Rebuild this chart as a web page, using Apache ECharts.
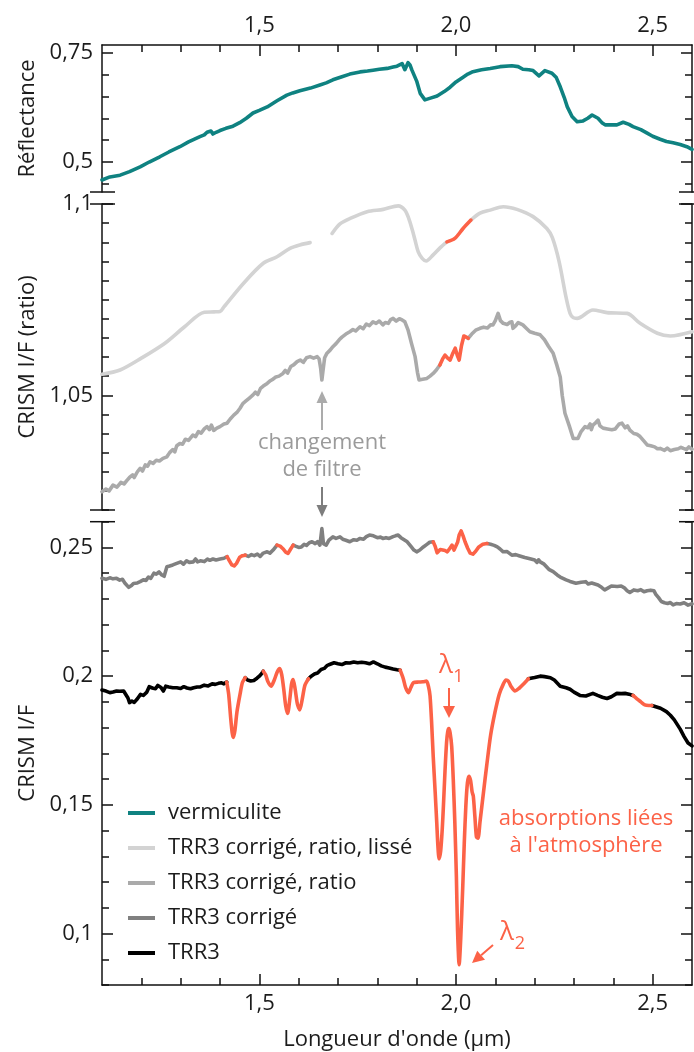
<!DOCTYPE html>
<html><head><meta charset="utf-8">
<script src="https://cdn.jsdelivr.net/npm/echarts@6/dist/echarts.min.js"></script>
<style>html,body{margin:0;padding:0;background:#fff}#c{width:694px;height:1052px}</style>
</head><body><div id="c"></div>
<script>
// ---------------- DATA ----------------
const xTickMajor = [1.5, 2.0, 2.5];
const xTickMinor = [1.2,1.3,1.4,1.6,1.7,1.8,1.9,2.1,2.2,2.3,2.4];
const yTopLabels = [0.5, 0.75];
const yTopMinor = [0.45,0.55,0.6,0.65,0.7];
const yMidLabels = [1.05, 1.1];
const yMidMinor = [1.02,1.025,1.03,1.035,1.04,1.045,1.055,1.06,1.065,1.07,1.075,1.08,1.085,1.09,1.095];
const yBotLabels = [0.1, 0.15, 0.2, 0.25];
const yBotMinor = [0.08,0.09,0.11,0.12,0.13,0.14,0.16,0.17,0.18,0.19,0.21,0.22,0.23,0.24,0.26];

const legendNames = ['vermiculite','TRR3 corrigé, ratio, lissé','TRR3 corrigé, ratio','TRR3 corrigé','TRR3'];

const vermiculite = [[1.10,0.459],[1.12,0.466],[1.146,0.47],[1.17,0.478],[1.197,0.489],[1.22,0.50],[1.247,0.512],[1.27,0.523],[1.298,0.535],[1.32,0.546],[1.349,0.558],[1.36,0.562],[1.367,0.568],[1.372,0.566],[1.377,0.571],[1.382,0.564],[1.39,0.568],[1.40,0.572],[1.415,0.577],[1.433,0.582],[1.45,0.59],[1.467,0.60],[1.484,0.612],[1.50,0.618],[1.52,0.626],[1.545,0.64],[1.57,0.653],[1.585,0.658],[1.603,0.663],[1.63,0.669],[1.654,0.676],[1.67,0.681],[1.687,0.688],[1.71,0.695],[1.73,0.701],[1.756,0.706],[1.775,0.708],[1.789,0.71],[1.805,0.712],[1.825,0.714],[1.84,0.717],[1.85,0.719],[1.863,0.725],[1.870,0.711],[1.878,0.727],[1.883,0.722],[1.888,0.71],[1.90,0.685],[1.909,0.657],[1.921,0.642],[1.935,0.646],[1.952,0.651],[1.97,0.661],[1.985,0.671],[2.0,0.683],[2.018,0.694],[2.03,0.701],[2.043,0.7065],[2.065,0.711],[2.087,0.714],[2.112,0.718],[2.142,0.72],[2.158,0.718],[2.170,0.712],[2.185,0.711],[2.196,0.709],[2.211,0.697],[2.226,0.709],[2.244,0.703],[2.255,0.693],[2.265,0.672],[2.275,0.648],[2.283,0.626],[2.295,0.604],[2.308,0.592],[2.323,0.594],[2.335,0.60],[2.346,0.6075],[2.361,0.60],[2.372,0.589],[2.379,0.585],[2.395,0.585],[2.409,0.585],[2.425,0.591],[2.44,0.586],[2.45,0.581],[2.47,0.574],[2.486,0.566],[2.50,0.559],[2.519,0.552],[2.535,0.547],[2.552,0.544],[2.57,0.54],[2.587,0.535],[2.60,0.529]];

const ratioLisse = [[1.10,1.0555],[1.146,1.0566],[1.20,1.0597],[1.26,1.0636],[1.31,1.0679],[1.36,1.0717],[1.385,1.0718],[1.40,1.0719],[1.41,1.0731],[1.46,1.0793],[1.51,1.0845],[1.545,1.0862],[1.578,1.0884],[1.603,1.0893],[1.629,1.0899],[1.655,null],[1.685,1.0923],[1.705,1.0948],[1.73,1.0962],[1.774,1.098],[1.815,1.0986],[1.853,1.0995],[1.87,1.0984],[1.88,1.0962],[1.889,1.0932],[1.896,1.0905],[1.904,1.0875],[1.914,1.0858],[1.924,1.0851],[1.942,1.0867],[1.96,1.0886],[1.977,1.0901],[1.997,1.091],[2.018,1.0936],[2.038,1.0958],[2.061,1.0976],[2.087,1.0984],[2.12,1.0993],[2.155,1.0986],[2.196,1.0967],[2.231,1.0936],[2.245,1.0912],[2.262,1.085],[2.28,1.0755],[2.29,1.0714],[2.298,1.0703],[2.308,1.0701],[2.348,1.0723],[2.384,1.0716],[2.435,1.0714],[2.468,1.0688],[2.512,1.0662],[2.545,1.0655],[2.60,1.0666]];

const ratio = [[1.10,1.0248],[1.11,1.0255],[1.118,1.025],[1.128,1.0265],[1.138,1.026],[1.148,1.0272],[1.156,1.0268],[1.164,1.0278],[1.17,1.0285],[1.178,1.0292],[1.182,1.0285],[1.19,1.03],[1.197,1.0309],[1.203,1.0302],[1.21,1.0318],[1.216,1.0315],[1.222,1.0326],[1.23,1.0322],[1.238,1.033],[1.246,1.0328],[1.255,1.0335],[1.265,1.0339],[1.272,1.035],[1.28,1.0358],[1.285,1.0352],[1.29,1.0368],[1.298,1.0374],[1.305,1.0372],[1.312,1.0385],[1.32,1.0382],[1.331,1.0396],[1.338,1.0392],[1.345,1.0405],[1.352,1.0401],[1.36,1.0412],[1.367,1.0418],[1.373,1.041],[1.378,1.0422],[1.384,1.0408],[1.392,1.0414],[1.40,1.0418],[1.41,1.0425],[1.418,1.0427],[1.426,1.0438],[1.435,1.0448],[1.443,1.0455],[1.451,1.0466],[1.458,1.0478],[1.466,1.0485],[1.474,1.0492],[1.484,1.0501],[1.49,1.0508],[1.496,1.0502],[1.503,1.0518],[1.51,1.0524],[1.515,1.0519],[1.52,1.0531],[1.528,1.0538],[1.535,1.0542],[1.542,1.0548],[1.55,1.055],[1.56,1.0557],[1.566,1.0565],[1.572,1.0558],[1.58,1.0575],[1.588,1.058],[1.596,1.0588],[1.604,1.0592],[1.612,1.0586],[1.62,1.0598],[1.629,1.0601],[1.638,1.0597],[1.647,1.0601],[1.652,1.0595],[1.656,1.057],[1.659,1.054],[1.662,1.0565],[1.666,1.0598],[1.672,1.061],[1.68,1.0618],[1.687,1.0627],[1.695,1.0635],[1.703,1.0645],[1.71,1.0652],[1.72,1.066],[1.73,1.0666],[1.738,1.0672],[1.745,1.0668],[1.756,1.0679],[1.764,1.0674],[1.772,1.0686],[1.78,1.0682],[1.789,1.0692],[1.797,1.0688],[1.805,1.0694],[1.814,1.0684],[1.82,1.069],[1.828,1.0688],[1.834,1.0698],[1.84,1.0701],[1.848,1.0694],[1.856,1.07],[1.863,1.0697],[1.87,1.0692],[1.878,1.0671],[1.887,1.0635],[1.896,1.0601],[1.902,1.056],[1.906,1.054],[1.915,1.0542],[1.926,1.0544],[1.934,1.055],[1.942,1.0557],[1.95,1.0566],[1.959,1.0579],[1.966,1.0595],[1.972,1.0605],[1.978,1.0598],[1.985,1.0592],[1.992,1.061],[1.998,1.0623],[2.003,1.0605],[2.008,1.0592],[2.014,1.063],[2.02,1.0655],[2.026,1.0652],[2.031,1.0649],[2.04,1.066],[2.05,1.067],[2.061,1.0675],[2.07,1.0678],[2.08,1.0676],[2.088,1.0684],[2.094,1.0684],[2.1,1.0695],[2.107,1.0714],[2.113,1.0695],[2.12,1.0688],[2.13,1.0685],[2.136,1.069],[2.142,1.0692],[2.145,1.0675],[2.152,1.0682],[2.158,1.069],[2.163,1.0692],[2.17,1.0684],[2.18,1.0674],[2.188,1.0666],[2.2,1.0662],[2.214,1.0658],[2.225,1.0645],[2.235,1.0628],[2.247,1.061],[2.256,1.058],[2.265,1.0548],[2.27,1.05],[2.277,1.0453],[2.288,1.042],[2.298,1.0387],[2.31,1.0387],[2.318,1.0405],[2.328,1.0418],[2.335,1.0415],[2.341,1.0425],[2.344,1.041],[2.348,1.0422],[2.355,1.0428],[2.361,1.0435],[2.366,1.042],[2.374,1.0414],[2.385,1.0412],[2.396,1.041],[2.405,1.0412],[2.409,1.0409],[2.415,1.0425],[2.422,1.0427],[2.43,1.0415],[2.436,1.042],[2.442,1.0409],[2.452,1.04],[2.46,1.0398],[2.468,1.0392],[2.478,1.038],[2.486,1.037],[2.495,1.0368],[2.505,1.0365],[2.512,1.036],[2.519,1.0361],[2.53,1.0356],[2.537,1.0362],[2.545,1.0355],[2.555,1.0358],[2.565,1.036],[2.572,1.0364],[2.578,1.0361],[2.586,1.0358],[2.592,1.0365],[2.60,1.0359]];

const corrige = [[1.10,0.238],[1.11,0.2376],[1.12,0.2382],[1.128,0.2378],[1.137,0.238],[1.145,0.2373],[1.152,0.2376],[1.158,0.2362],[1.163,0.2355],[1.168,0.2345],[1.175,0.2352],[1.18,0.236],[1.19,0.2362],[1.197,0.2367],[1.205,0.2374],[1.212,0.2372],[1.218,0.2385],[1.224,0.238],[1.232,0.24],[1.238,0.2396],[1.245,0.2405],[1.252,0.2393],[1.258,0.2388],[1.265,0.2425],[1.272,0.2428],[1.28,0.2432],[1.29,0.2438],[1.30,0.2444],[1.307,0.2435],[1.315,0.2448],[1.322,0.2442],[1.332,0.2444],[1.338,0.2455],[1.343,0.2444],[1.35,0.2448],[1.36,0.2445],[1.368,0.2455],[1.374,0.245],[1.382,0.2455],[1.39,0.2451],[1.40,0.2455],[1.41,0.2458],[1.418,0.2464],[1.424,0.2448],[1.43,0.2432],[1.436,0.2428],[1.442,0.2438],[1.45,0.2462],[1.457,0.2468],[1.464,0.247],[1.472,0.2465],[1.48,0.2472],[1.487,0.2468],[1.495,0.2474],[1.502,0.2465],[1.51,0.2478],[1.52,0.2483],[1.527,0.2478],[1.535,0.249],[1.545,0.2509],[1.553,0.2505],[1.56,0.2495],[1.567,0.2482],[1.573,0.2477],[1.58,0.2495],[1.586,0.2509],[1.592,0.2505],[1.60,0.25],[1.607,0.2502],[1.614,0.2512],[1.62,0.2508],[1.627,0.2518],[1.634,0.2522],[1.642,0.2515],[1.648,0.2522],[1.654,0.2509],[1.659,0.2573],[1.663,0.2515],[1.67,0.2509],[1.677,0.2528],[1.687,0.2541],[1.695,0.2535],[1.705,0.2541],[1.712,0.2532],[1.72,0.2528],[1.73,0.2522],[1.74,0.253],[1.748,0.2528],[1.756,0.2535],[1.765,0.2532],[1.772,0.2542],[1.78,0.2548],[1.79,0.2545],[1.80,0.2538],[1.808,0.254],[1.814,0.2535],[1.822,0.2538],[1.83,0.2535],[1.84,0.2542],[1.846,0.2545],[1.853,0.2548],[1.86,0.2538],[1.868,0.253],[1.876,0.2522],[1.885,0.2505],[1.893,0.249],[1.90,0.2483],[1.908,0.249],[1.917,0.2502],[1.926,0.2512],[1.933,0.252],[1.942,0.2522],[1.947,0.2505],[1.952,0.2479],[1.96,0.2492],[1.965,0.2496],[1.972,0.2488],[1.978,0.2483],[1.985,0.2498],[1.99,0.2509],[1.995,0.249],[1.998,0.2483],[2.004,0.252],[2.008,0.2548],[2.013,0.2564],[2.018,0.2545],[2.023,0.2522],[2.03,0.2496],[2.036,0.2478],[2.043,0.2474],[2.05,0.2485],[2.058,0.2502],[2.068,0.2512],[2.079,0.2515],[2.088,0.2512],[2.097,0.2508],[2.105,0.2502],[2.112,0.2494],[2.12,0.2483],[2.13,0.2484],[2.142,0.247],[2.152,0.2472],[2.16,0.2468],[2.175,0.2461],[2.188,0.2456],[2.20,0.2451],[2.206,0.2442],[2.21,0.2452],[2.214,0.2444],[2.224,0.2435],[2.236,0.2415],[2.247,0.2406],[2.258,0.2392],[2.265,0.2385],[2.28,0.2374],[2.29,0.2368],[2.305,0.2361],[2.318,0.2365],[2.322,0.2362],[2.33,0.2367],[2.336,0.2358],[2.345,0.2362],[2.361,0.2354],[2.37,0.2345],[2.378,0.2335],[2.386,0.2342],[2.395,0.235],[2.41,0.2348],[2.42,0.235],[2.428,0.2343],[2.435,0.2332],[2.442,0.2325],[2.452,0.2335],[2.462,0.2332],[2.47,0.2336],[2.478,0.2328],[2.486,0.2332],[2.495,0.2334],[2.503,0.2332],[2.508,0.2318],[2.515,0.2305],[2.522,0.229],[2.53,0.2285],[2.538,0.2282],[2.545,0.2286],[2.552,0.2277],[2.56,0.2282],[2.57,0.228],[2.58,0.2285],[2.59,0.2276],[2.60,0.2281]];

const trr3 = [[1.10,0.1946],[1.11,0.1942],[1.12,0.1936],[1.128,0.1938],[1.137,0.1942],[1.145,0.1941],[1.155,0.1942],[1.16,0.1945],[1.166,0.1915],[1.17,0.1897],[1.176,0.1903],[1.182,0.1898],[1.19,0.1912],[1.198,0.1929],[1.205,0.1925],[1.214,0.1938],[1.22,0.1959],[1.228,0.1954],[1.236,0.1951],[1.242,0.1964],[1.25,0.1956],[1.256,0.1942],[1.262,0.1961],[1.27,0.1958],[1.28,0.1955],[1.29,0.1955],[1.30,0.1952],[1.308,0.1959],[1.316,0.1954],[1.325,0.1951],[1.333,0.1955],[1.342,0.1958],[1.35,0.1958],[1.36,0.1965],[1.37,0.1962],[1.38,0.197],[1.388,0.1968],[1.396,0.1972],[1.404,0.1974],[1.41,0.197],[1.417,0.1977],[1.422,0.193],[1.427,0.184],[1.431,0.178],[1.434,0.1762],[1.438,0.179],[1.443,0.186],[1.451,0.193],[1.457,0.1975],[1.464,0.1994],[1.47,0.1985],[1.478,0.1981],[1.486,0.1983],[1.494,0.1992],[1.50,0.20],[1.505,0.2008],[1.51,0.2019],[1.516,0.2005],[1.522,0.1978],[1.53,0.1961],[1.538,0.1985],[1.546,0.2018],[1.552,0.2029],[1.557,0.2005],[1.562,0.195],[1.567,0.1885],[1.572,0.1855],[1.577,0.1905],[1.582,0.197],[1.586,0.1987],[1.591,0.195],[1.597,0.189],[1.603,0.1869],[1.609,0.191],[1.616,0.1965],[1.625,0.199],[1.632,0.20],[1.64,0.2008],[1.648,0.2012],[1.657,0.2026],[1.665,0.203],[1.673,0.2042],[1.68,0.2046],[1.69,0.2052],[1.70,0.2048],[1.71,0.2045],[1.72,0.2052],[1.73,0.2051],[1.74,0.2055],[1.75,0.2052],[1.76,0.2054],[1.77,0.2052],[1.78,0.2048],[1.79,0.2055],[1.80,0.2048],[1.81,0.204],[1.82,0.2035],[1.83,0.2032],[1.84,0.2028],[1.85,0.2025],[1.858,0.2023],[1.866,0.199],[1.872,0.1955],[1.879,0.1936],[1.885,0.1955],[1.892,0.1975],[1.905,0.1977],[1.916,0.1978],[1.925,0.1981],[1.93,0.196],[1.934,0.1923],[1.938,0.182],[1.942,0.169],[1.947,0.155],[1.951,0.1433],[1.954,0.134],[1.957,0.129],[1.961,0.132],[1.965,0.1405],[1.968,0.1495],[1.972,0.163],[1.976,0.1742],[1.979,0.1785],[1.982,0.1796],[1.985,0.178],[1.989,0.1728],[1.993,0.16],[1.997,0.1433],[2.001,0.122],[2.004,0.101],[2.008,0.0879],[2.012,0.098],[2.017,0.1175],[2.021,0.135],[2.025,0.1495],[2.029,0.1585],[2.033,0.1611],[2.037,0.1595],[2.041,0.155],[2.044,0.1534],[2.048,0.1455],[2.052,0.1375],[2.056,0.137],[2.061,0.1433],[2.07,0.155],[2.078,0.1652],[2.088,0.177],[2.099,0.1859],[2.11,0.193],[2.12,0.1968],[2.127,0.1985],[2.133,0.1981],[2.14,0.196],[2.15,0.1942],[2.16,0.1952],[2.171,0.1968],[2.184,0.199],[2.19,0.1992],[2.20,0.1995],[2.214,0.20],[2.225,0.1998],[2.24,0.1994],[2.25,0.1985],[2.265,0.1961],[2.28,0.1955],[2.29,0.1949],[2.30,0.1938],[2.315,0.1925],[2.33,0.1923],[2.348,0.1933],[2.36,0.1925],[2.372,0.1918],[2.384,0.1913],[2.395,0.192],[2.409,0.1933],[2.42,0.1932],[2.43,0.1933],[2.44,0.193],[2.45,0.1925],[2.46,0.1912],[2.47,0.19],[2.48,0.1888],[2.49,0.1886],[2.498,0.1886],[2.51,0.188],[2.52,0.1875],[2.535,0.1862],[2.545,0.1848],[2.555,0.183],[2.57,0.1794],[2.58,0.1765],[2.59,0.174],[2.60,0.1729]];

// wavelength ranges drawn in red (atmospheric absorptions)
const redLisse = [[1.977, 2.038]];
const redRatio = [[1.959, 2.031]];
const redCorrige = [[1.418, 1.464], [1.545, 1.586], [1.942, 2.079]];
const redTrr3 = [[1.417, 1.464], [1.51, 1.625], [1.858, 2.184], [2.45, 2.498]];

// ---------------- STYLE / LAYOUT ----------------
const FONT = 'Open Sans';
const FS = 22;
const RED = '#fc6247';
const C = { verm:'#0f8281', lisse:'#d3d3d3', ratio:'#aaaaaa', corr:'#808080', trr3:'#000000' };
const LW = 3.6;
const G = [
  {left:102, width:590, top:45, height:147},
  {left:102, width:590, top:204, height:306},
  {left:102, width:590, top:521.7, height:465}
];

function splitRed(data, ranges){
  const eps = 1e-9;
  const inside = x => ranges.some(r => x > r[0]+eps && x < r[1]-eps);
  const inClosed = x => ranges.some(r => x >= r[0]-eps && x <= r[1]+eps);
  const base = data.map(p => inside(p[0]) ? [p[0], null] : p);
  const red = [];
  data.forEach(p => {
    if (inClosed(p[0])) red.push(p);
    else if (red.length && red[red.length-1][1] !== null) red.push([p[0], null]);
  });
  return {base, red};
}
const fmt = v => String(+v.toFixed(3)).replace('.', ',');
const fmtX = v => v.toFixed(1).replace('.', ',');
const axisColor = '#111';
const labelColor = '#1c1c1c';

function yAxesFor(gi, min, max, labels, minor, name, nameGap){
  const common = {gridIndex:gi, type:'value', min, max, splitLine:{show:false}};
  const ls = {color:axisColor, width:1.5};
  return [
    Object.assign({}, common, {position:'left', name, nameLocation:'middle', nameGap,
      nameTextStyle:{fontSize:FS, color:labelColor, fontFamily:FONT},
      axisLine:{show:true, lineStyle:ls},
      axisTick:{show:true, inside:true, length:11, customValues:labels, lineStyle:ls},
      axisLabel:{show:true, customValues:labels, formatter:fmt, margin:9, fontSize:FS, color:labelColor, fontFamily:FONT}}),
    Object.assign({}, common, {position:'left', axisLine:{show:false},
      axisTick:{show:true, inside:true, length:7, customValues:minor, lineStyle:ls}, axisLabel:{show:false}}),
    Object.assign({}, common, {position:'right', axisLine:{show:true, lineStyle:ls},
      axisTick:{show:true, inside:true, length:11, customValues:labels, lineStyle:ls}, axisLabel:{show:false}}),
    Object.assign({}, common, {position:'right', axisLine:{show:false},
      axisTick:{show:true, inside:true, length:7, customValues:minor, lineStyle:ls}, axisLabel:{show:false}})
  ];
}
function xAxesFor(gi, pos, withName){
  const ls = {color:axisColor, width:1.5};
  const common = {gridIndex:gi, type:'value', min:1.1, max:2.6, position:pos, splitLine:{show:false}};
  const major = Object.assign({}, common, {axisLine:{show:true, onZero:false, lineStyle:ls},
      axisTick:{show:true, inside:true, length:11, customValues:xTickMajor, lineStyle:ls},
      axisLabel:{show:true, customValues:xTickMajor, formatter:fmtX, margin:8, fontSize:FS, color:labelColor, fontFamily:FONT}});
  if (withName) Object.assign(major, {name:'Longueur d\'onde (µm)', nameLocation:'middle', nameGap:44,
      nameTextStyle:{fontSize:FS, color:labelColor, fontFamily:FONT}});
  const minorAx = Object.assign({}, common, {axisLine:{show:false, onZero:false},
      axisTick:{show:true, inside:true, length:7, customValues:xTickMinor, lineStyle:ls}, axisLabel:{show:false}});
  return [major, minorAx];
}

const xAxis = [
  ...xAxesFor(0, 'top', false),
  {gridIndex:1, type:'value', min:1.1, max:2.6, show:false},
  ...xAxesFor(2, 'bottom', true)
];
const yAxis = [
  ...yAxesFor(0, 0.4315, 0.7675, yTopLabels, yTopMinor, 'Réflectance', 62),
  ...yAxesFor(1, 1.02, 1.1, yMidLabels, yMidMinor, 'CRISM I/F (ratio)', 62),
  ...yAxesFor(2, 0.08, 0.26, yBotLabels, yBotMinor, 'CRISM I/F', 62)
];

function line(name, data, xi, yi, color, smooth, z){
  return {name, type:'line', data, xAxisIndex:xi, yAxisIndex:yi, showSymbol:false, symbol:'none',
    smooth: smooth || false, connectNulls:false, z: z||2,
    lineStyle:{color, width:LW, cap:'round', join:'round'}, itemStyle:{color}, emphasis:{disabled:true}};
}
const sL = splitRed(ratioLisse, redLisse);
const sR = splitRed(ratio, redRatio);
const sC = splitRed(corrige, redCorrige);
const sT = splitRed(trr3, redTrr3);

const series = [
  line(legendNames[0], vermiculite, 0, 0, C.verm),
  line(legendNames[1], sL.base, 2, 4, C.lisse, 0.3),
  line(legendNames[2], sR.base, 2, 4, C.ratio),
  line(legendNames[3], sC.base, 3, 8, C.corr),
  line(legendNames[4], sT.base, 3, 8, C.trr3),
  line('abs-lisse', sL.red, 2, 4, RED, 0.3, 3),
  line('abs-ratio', sR.red, 2, 4, RED, false, 3),
  line('abs-corr', sC.red, 3, 8, RED, false, 3),
  line('abs-trr3', sT.red, 3, 8, RED, 0.25, 3)
];

function arrow(x1,y1,x2,y2,color,head,half){
  const dx=x2-x1, dy=y2-y1, L=Math.hypot(dx,dy), ux=dx/L, uy=dy/L;
  const bx=x2-ux*head, by=y2-uy*head, px=-uy, py=ux;
  return [
    {type:'line', shape:{x1,y1,x2:bx,y2:by}, style:{stroke:color, lineWidth:2}, silent:true},
    {type:'polygon', shape:{points:[[x2,y2],[bx+px*half,by+py*half],[bx-px*half,by-py*half]]}, style:{fill:color}, silent:true}
  ];
}
function brk(x1,x2,y){ return {type:'line', shape:{x1,y1:y,x2,y2:y}, style:{stroke:axisColor, lineWidth:1.5}, silent:true}; }
const breaks = [];
[G[0].top+G[0].height, G[1].top, G[1].top+G[1].height, G[2].top].forEach(y => {
  breaks.push(brk(90, 115, y)); breaks.push(brk(679, 694, y));
});
const txt = (x,y,text,color,size,align) => ({type:'text', x, y, silent:true,
  style:{text, fill:color, font:`${size}px "${FONT}"`, textAlign:align||'center', textVerticalAlign:'middle'}});

const graphic = [
  ...breaks,
  txt(322, 443, 'changement', '#9b9b9b', FS),
  txt(322, 470, 'de filtre', '#9b9b9b', FS),
  ...arrow(322, 430, 322, 391, '#ababab', 12, 5.5),
  ...arrow(322, 487, 322, 517, '#7d7d7d', 12, 5.5),
  txt(446, 666, 'λ', RED, 26),
  txt(458.5, 677, '1', RED, 18),
  ...arrow(449, 688, 449, 718, RED, 12, 6),
  txt(507, 933, 'λ', RED, 26),
  txt(520, 944, '2', RED, 18),
  ...arrow(493, 945, 472, 963, RED, 12, 6),
  txt(586, 819, 'absorptions liées', RED, FS),
  txt(586, 846, 'à l\'atmosphère', RED, FS)
];

const option = {
  animation:false,
  backgroundColor:'#fff',
  textStyle:{fontFamily:FONT},
  grid: G,
  xAxis, yAxis, series,
  legend:{data:legendNames, orient:'vertical', left:123, top:795, icon:'rect', itemWidth:27, itemHeight:4,
    itemGap:9, selectedMode:false,
    textStyle:{fontSize:FS, color:labelColor, fontFamily:FONT, lineHeight:26, padding:[0,0,0,8]}},
  graphic
};
const chart = echarts.init(document.getElementById('c'), null, {renderer:'canvas'});
chart.setOption(option);
</script></body></html>
